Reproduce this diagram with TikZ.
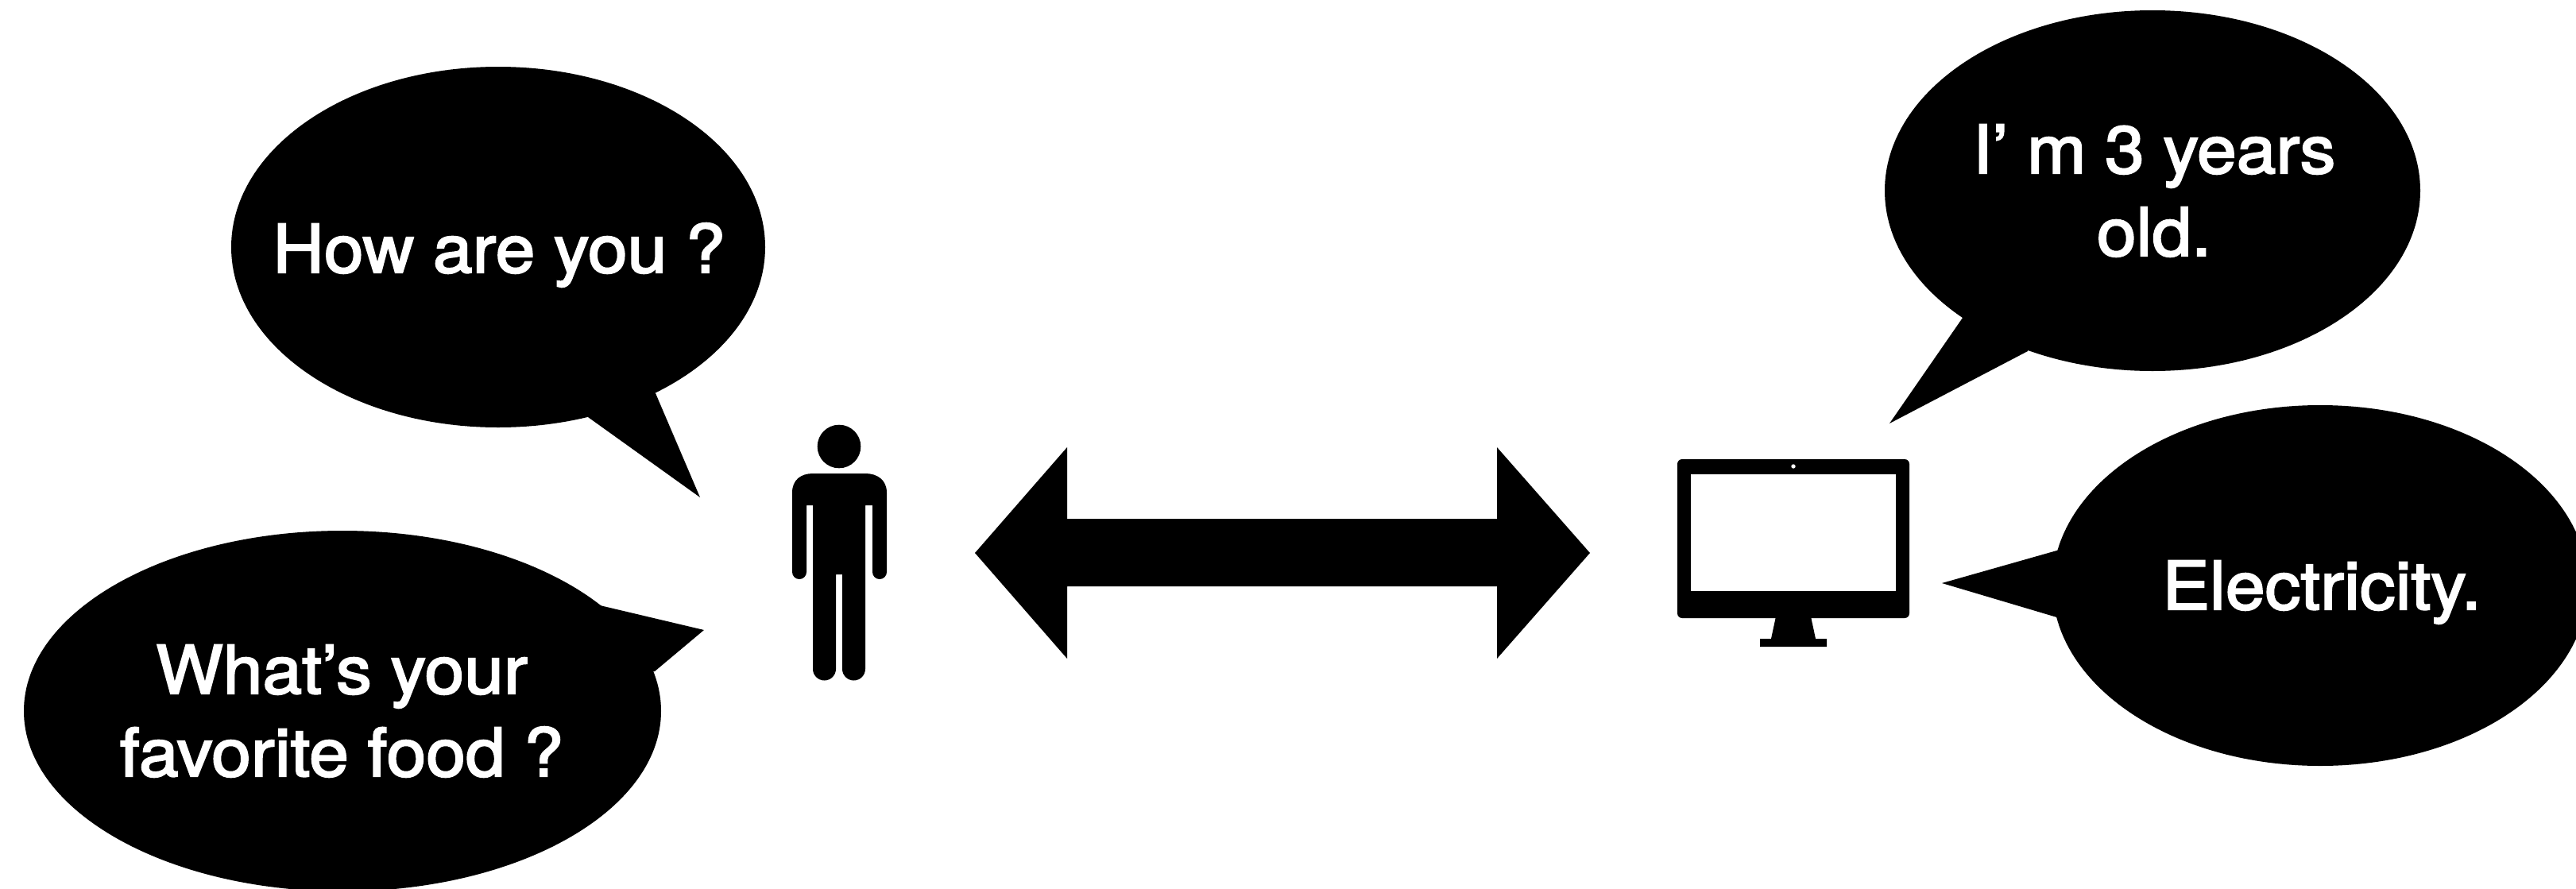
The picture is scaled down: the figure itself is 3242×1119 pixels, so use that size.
\documentclass[tikz,border=0pt]{standalone}
\usepackage{fontspec}
\setmainfont[FakeStretch=1.065,FakeBold=2.5,WordSpace=0.95]{TeX Gyre Heros}
\tikzset{
  x=1pt,y=-1pt,
  ink/.style={fill=black,draw=none},
  say/.style={text=white,font=\fontsize{84}{104}\selectfont,align=center,inner sep=0pt,anchor=base},
}
\begin{document}
\begin{tikzpicture}
\useasboundingbox[fill=white] (0,0) rectangle (3242,1119);
\begin{scope}
\clip (0,0) rectangle (3242,1119);
% bubbles
\fill[ink] (627,311) ellipse [x radius=336,y radius=227];
\fill[ink] (740,525) -- (881,626) -- (825,495) -- (700,400) -- cycle;
\fill[ink] (431,895) ellipse [x radius=401,y radius=227];
\fill[ink] (755,762) -- (886,793) -- (824,845) -- (700,850) -- cycle;
\fill[ink] (2709,240) ellipse [x radius=337,y radius=227];
\fill[ink] (2470,400) -- (2378,533) -- (2552,442) -- (2600,300) -- cycle;
\fill[ink] (2920,737) ellipse [x radius=337,y radius=227];
\fill[ink] (2592,692) -- (2444,734) -- (2592,778) -- (2700,740) -- cycle;
\end{scope}
\node[say] (q1) at (628,343) {How are you ?};
\node[say] (q2) at (430,977) {What’s your\\favorite food ?};
\node[say] (a1) at (2711,322) {I’ m 3 years\\old.};
\node[say] (a2) at (2922,767) {Electricity.};
% person
\fill[ink] (1056,562) circle [radius=27.3];
\fill[ink] (1023,636) -- (1015,636) -- (1015,720) arc [start angle=0,end angle=180,radius=9] -- (997,620)
  .. controls (997,604) and (1008,596) .. (1023,596) -- (1089,596)
  .. controls (1104,596) and (1116,604) .. (1116,620) -- (1116,720) arc [start angle=0,end angle=180,radius=9]
  -- (1098,636) -- (1089,636) -- (1089,842) arc [start angle=0,end angle=180,radius=14.5]
  -- (1060,723) -- (1052,723) -- (1052,842) arc [start angle=0,end angle=180,radius=14.5] -- cycle;
% monitor
\fill[ink,rounded corners=6] (2111,578) rectangle (2403,778);
\fill[white] (2128,597) rectangle (2386,744);
\fill[white] (2257,587) circle [radius=2.7];
\fill[ink] (2235,776) -- (2279,776) -- (2285,804) -- (2299,804) -- (2299,814) -- (2215,814) -- (2215,804) -- (2229,804) -- cycle;
% double arrow
\fill[ink] (1227,696) -- (1343,563) -- (1343,653) -- (1884,653) -- (1884,563) -- (2001,696) -- (1884,829) -- (1884,738) -- (1343,738) -- (1343,829) -- cycle;
\end{tikzpicture}
\end{document}
